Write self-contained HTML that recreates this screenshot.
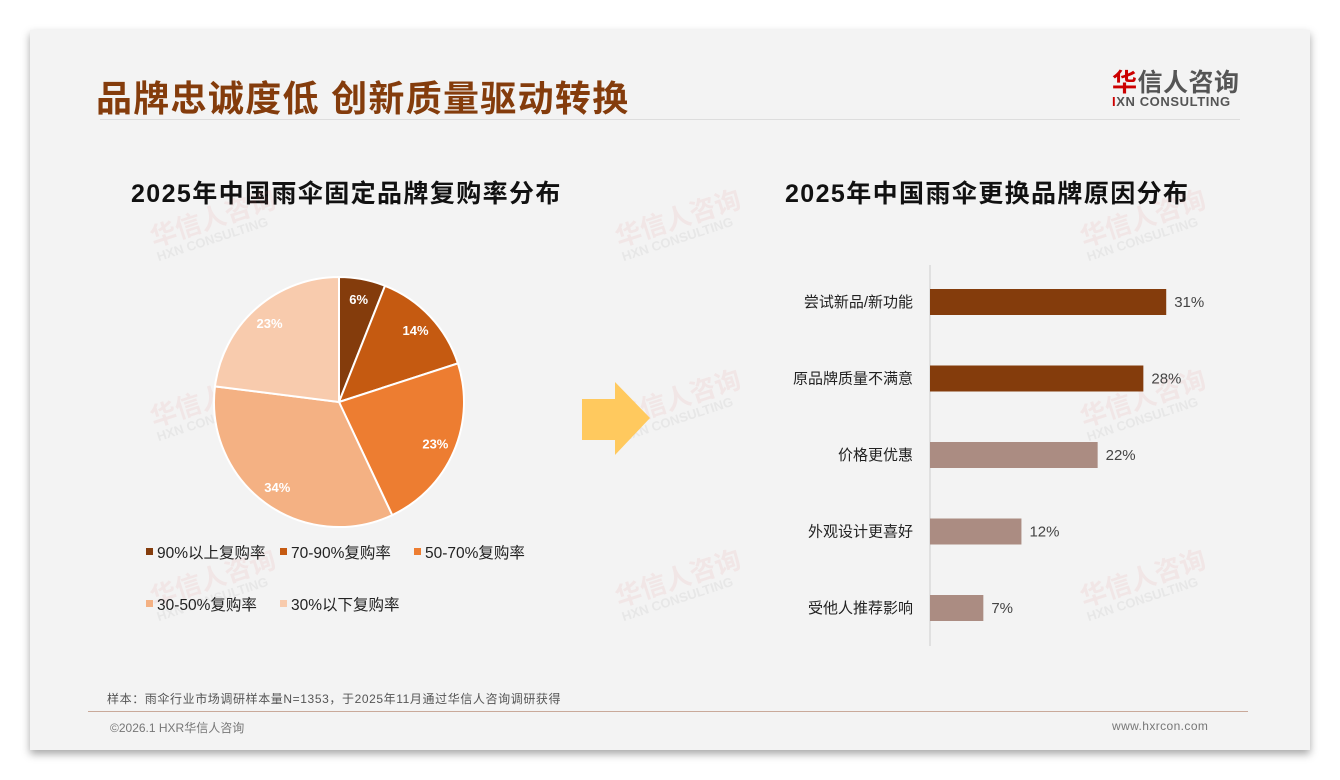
<!DOCTYPE html>
<html><head><meta charset="utf-8"><style>
body{margin:0;width:1340px;height:780px;background:#fff;position:relative;overflow:hidden;font-family:"Liberation Sans","Noto Sans CJK SC",sans-serif}
#slide{position:absolute;left:30px;top:30px;width:1280px;height:720px;background:#f3f3f3;box-shadow:0 4px 8px rgba(0,0,0,.35)}
.abs{position:absolute;white-space:nowrap}
.wm{position:absolute;color:rgba(230,120,120,.10);font-size:26px;font-weight:bold;transform:rotate(-18deg);line-height:1}
.wm span{display:block;font-size:13px;color:rgba(150,150,150,.12)}
</style></head><body>
<div id="slide">
<div class="abs" style="left:66px;top:40px;font-size:36px;letter-spacing:1.3px;font-weight:bold;color:#843c0c">品牌忠诚度低 创新质量驱动转换</div>
<div class="abs" style="left:70px;top:89px;width:1140px;height:1px;background:#ddd"></div>
<div class="abs" style="left:1082px;top:33px;font-size:25px;letter-spacing:0.5px;font-weight:bold;color:#555"><span style="color:#c00">华</span>信人咨询</div>
<div class="abs" style="left:1082px;top:64px;font-size:13px;letter-spacing:0.6px;font-weight:bold;color:#555"><span style="color:#c00">I</span>XN CONSULTING</div>
<div class="abs" style="left:101px;top:144px;font-size:25px;letter-spacing:1.4px;font-weight:bold;color:#111">2025年中国雨伞固定品牌复购率分布</div>
<div class="abs" style="left:755px;top:144px;font-size:25px;letter-spacing:1.4px;font-weight:bold;color:#111">2025年中国雨伞更换品牌原因分布</div>
<div class="wm" style="left:120px;top:175px">华信人咨询<span>HXN CONSULTING</span></div>
<div class="wm" style="left:585px;top:175px">华信人咨询<span>HXN CONSULTING</span></div>
<div class="wm" style="left:1050px;top:175px">华信人咨询<span>HXN CONSULTING</span></div>
<div class="wm" style="left:120px;top:355px">华信人咨询<span>HXN CONSULTING</span></div>
<div class="wm" style="left:585px;top:355px">华信人咨询<span>HXN CONSULTING</span></div>
<div class="wm" style="left:1050px;top:355px">华信人咨询<span>HXN CONSULTING</span></div>
<div class="wm" style="left:120px;top:535px">华信人咨询<span>HXN CONSULTING</span></div>
<div class="wm" style="left:585px;top:535px">华信人咨询<span>HXN CONSULTING</span></div>
<div class="wm" style="left:1050px;top:535px">华信人咨询<span>HXN CONSULTING</span></div>
<div class="abs" style="left:77px;top:660px;font-size:12px;letter-spacing:0.6px;color:#555">样本：雨伞行业市场调研样本量N=1353，于2025年11月通过华信人咨询调研获得</div>
<div class="abs" style="left:58px;top:681px;width:1160px;height:1px;background:#c9a99a"></div>
<div class="abs" style="left:80px;top:689px;font-size:12px;color:#777">©2026.1 HXR华信人咨询</div>
<div class="abs" style="left:1082px;top:689px;font-size:12px;letter-spacing:0.4px;color:#777">www.hxrcon.com</div>
</div>
<svg id="chart" width="1340" height="780" style="position:absolute;left:0;top:0">
<polygon points="582,399 615,399 615,382 650,418 615,455 615,440 582,440" fill="#ffc95e"/>
</svg>
<script>
const pieLabels=["90%以上复购率","70-90%复购率","50-70%复购率","30-50%复购率","30%以下复购率"];
const pieValues=[6,14,23,34,23];
const pieColors=["#843c0c","#c55a11","#ed7d31","#f4b183","#f8cbad"];
const barCats=["尝试新品/新功能","原品牌质量不满意","价格更优惠","外观设计更喜好","受他人推荐影响"];
const barValues=[31,28,22,12,7];
const barColors=["#843c0c","#843c0c","#ab8c82","#ab8c82","#ab8c82"];
const NS="http://www.w3.org/2000/svg";
const svg=document.getElementById('chart');
function mk(t,a){const e=document.createElementNS(NS,t);for(const k in a)e.setAttribute(k,a[k]);svg.appendChild(e);return e;}
const cx=339,cy=402,R=125;
const total=pieValues.reduce((a,b)=>a+b,0);
let ang=0;
pieValues.forEach((v,i)=>{
  const a0=ang,a1=ang+v/total*2*Math.PI;ang=a1;
  const x0=cx+R*Math.sin(a0),y0=cy-R*Math.cos(a0),x1=cx+R*Math.sin(a1),y1=cy-R*Math.cos(a1);
  const p=mk('path',{d:`M${cx},${cy}L${x0},${y0}A${R},${R} 0 ${a1-a0>Math.PI?1:0} 1 ${x1},${y1}Z`,fill:pieColors[i],stroke:'#fff','stroke-width':2});
  
  
  const m=(a0+a1)/2,r=0.84*R;
  const t=mk('text',{x:cx+r*Math.sin(m),y:cy-r*Math.cos(m)+5,'text-anchor':'middle','font-size':13,'font-weight':'bold',fill:'#fff'});
  t.textContent=v+'%';
  
  
  const lx=[146,280,414,146,280][i],ly=[553,553,553,605,605][i];
  const s=mk('rect',{x:lx,y:ly-5,width:7,height:7,fill:pieColors[i]});
  
  
  const lt=mk('text',{x:lx+11,y:ly+5,'font-size':15.5,fill:'#222'});
  lt.textContent=pieLabels[i];
  
  
});
const ax=930,scale=7.62,y0=302,step=76.5,bh=26;
const axis=mk('line',{x1:ax,y1:265,x2:ax,y2:646,stroke:'#ccc','stroke-width':1});


barValues.forEach((v,i)=>{
  const yc=y0+i*step;
  const r=mk('rect',{x:ax,y:yc-bh/2,width:v*scale,height:bh,fill:barColors[i]});
  
  
  const c=mk('text',{x:ax-17,y:yc+5,'text-anchor':'end','font-size':15,fill:'#222'});
  c.textContent=barCats[i];
  
  
  const vt=mk('text',{x:ax+v*scale+8,y:yc+5,'font-size':15,fill:'#444'});
  vt.textContent=v+'%';
  
  
});
</script>
</body></html>
